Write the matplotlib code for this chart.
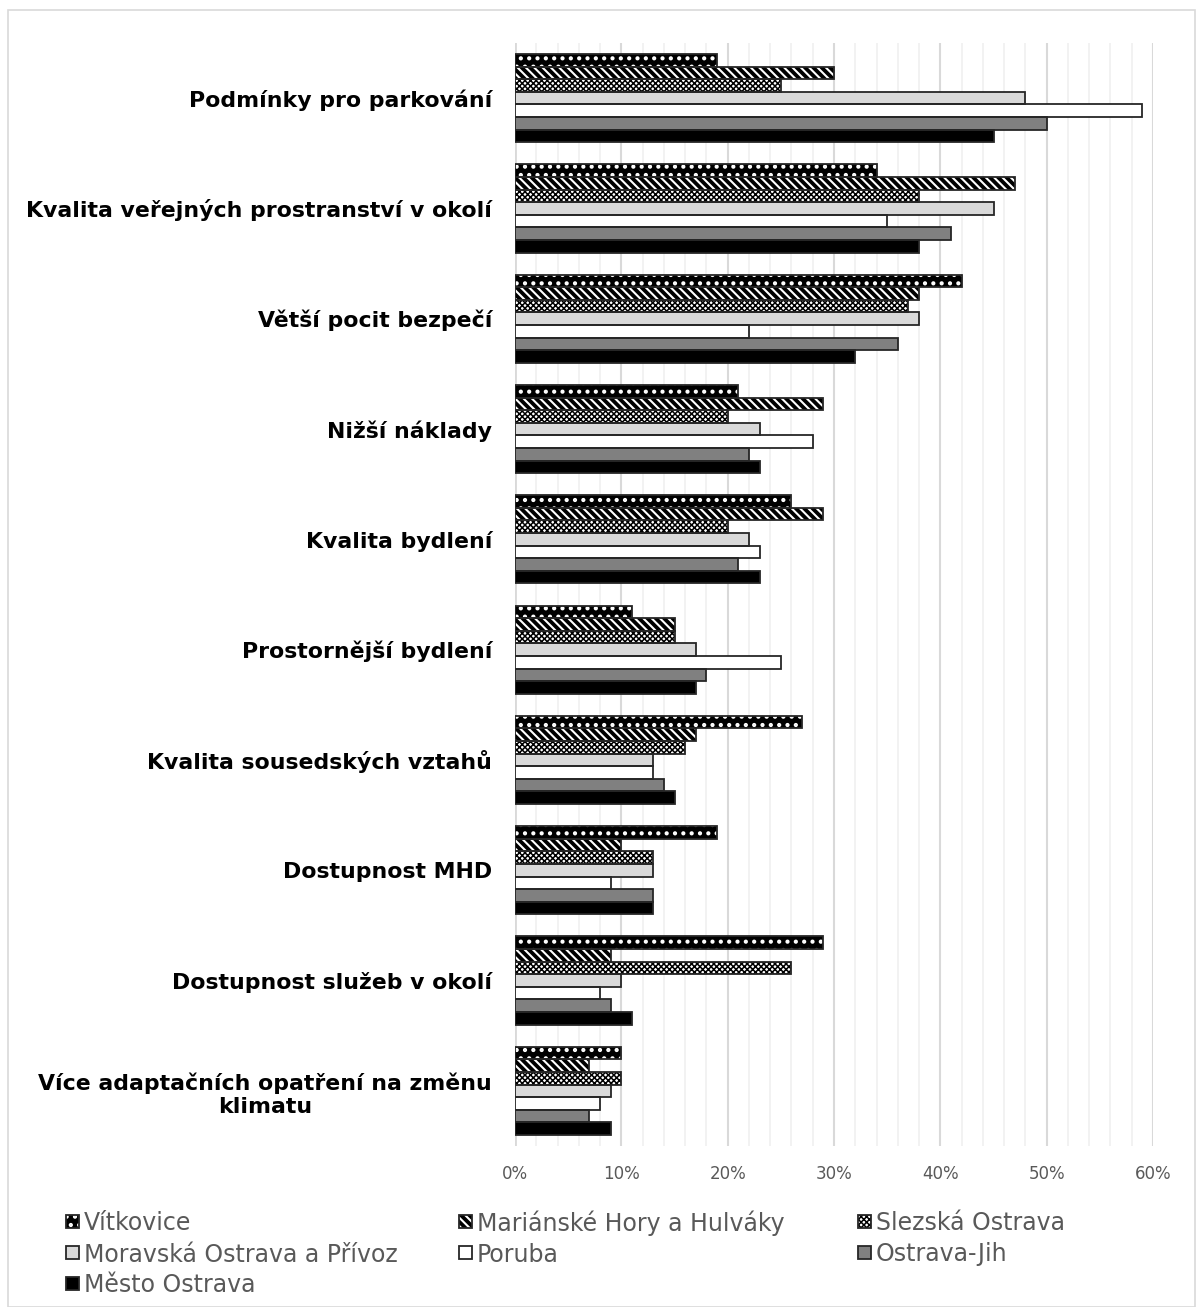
import matplotlib
matplotlib.use("Agg")
import matplotlib.pyplot as plt
from matplotlib.patches import Rectangle
from matplotlib.ticker import MultipleLocator, PercentFormatter
import numpy as np

categories = [
    "Podmínky pro parkování",
    "Kvalita veřejných prostranství v okolí",
    "Větší pocit bezpečí",
    "Nižší náklady",
    "Kvalita bydlení",
    "Prostornější bydlení",
    "Kvalita sousedských vztahů",
    "Dostupnost MHD",
    "Dostupnost služeb v okolí",
    "Více adaptačních opatření na změnu\nklimatu",
]

series_names = [
    "Vítkovice",
    "Mariánské Hory a Hulváky",
    "Slezská Ostrava",
    "Moravská Ostrava a Přívoz",
    "Poruba",
    "Ostrava-Jih",
    "Město Ostrava",
]

vitkovice = [19, 34, 42, 21, 26, 11, 27, 19, 29, 10]
marianske = [30, 47, 38, 29, 29, 15, 17, 10, 9, 7]
slezska = [25, 38, 37, 20, 20, 15, 16, 13, 26, 10]
moravska = [48, 45, 38, 23, 22, 17, 13, 13, 10, 9]
poruba = [59, 35, 22, 28, 23, 25, 13, 9, 8, 8]
jih = [50, 41, 36, 22, 21, 18, 14, 13, 9, 7]
mesto = [45, 38, 32, 23, 23, 17, 15, 13, 11, 9]

values = [vitkovice, marianske, slezska, moravska, poruba, jih, mesto]

# fill colour, hatch colour, hatch pattern, hatch line width
styles = [
    ("black", "white", "..", 1.8),
    ("black", "white", "\\\\\\\\", 1.5),
    ("white", "black", "xxxxxx", 1.1),
    ("#d9d9d9", "#1a1a1a", None, 1.0),
    ("white", "#1a1a1a", None, 1.0),
    ("#808080", "#1a1a1a", None, 1.0),
    ("black", "black", None, 1.0),
]
OUTLINE = "#262626"


def hatched(patch, hlw):
    # per-artist hatch width when the matplotlib version supports it
    if hasattr(patch, "set_hatch_linewidth"):
        patch.set_hatch_linewidth(hlw)


plt.rcParams["font.family"] = ["DejaVu Sans"]
plt.rcParams["hatch.linewidth"] = 1.0

W, H = 1203, 1307
fig = plt.figure(figsize=(W / 100, H / 100), dpi=100)
ax = fig.add_axes([515 / W, 1 - 1146 / H, (1153 - 515) / W, (1146 - 43) / H])

y = np.arange(len(categories))
bh = 0.8 / 7
for j, (vals, (fc, hc, hatch, hlw)) in enumerate(zip(values, styles)):
    pos = y + (j - 3) * bh
    bars = ax.barh(pos, vals, height=bh, facecolor=fc, edgecolor=hc,
                   hatch=hatch, linewidth=0, zorder=3)
    for b in bars:
        hatched(b, hlw)
    ax.barh(pos, vals, height=bh, facecolor="none", edgecolor=OUTLINE,
            linewidth=1.3, zorder=4)

ax.set_xlim(0, 60)
ax.set_ylim(9.5, -0.5)
ax.set_yticks(y)
ax.set_yticklabels(categories, fontsize=15.8, fontweight="bold",
                   multialignment="center")
ax.tick_params(axis="y", length=0, pad=16.5)
ax.xaxis.set_major_locator(MultipleLocator(10))
ax.xaxis.set_minor_locator(MultipleLocator(2))
ax.xaxis.set_major_formatter(PercentFormatter(decimals=0))
ax.tick_params(axis="x", which="both", length=0, pad=14, labelsize=12,
               labelcolor="#595959")
ax.grid(axis="x", which="major", color="#d9d9d9", linewidth=1.5, zorder=0)
ax.grid(axis="x", which="minor", color="#f0f0f0", linewidth=1.2, zorder=0)
ax.set_axisbelow(True)
for s in ax.spines.values():
    s.set_visible(False)
ax.axvline(0, color="#d9d9d9", linewidth=2, zorder=1)

# legend, three columns filled row by row
col_x = [66, 459, 858]
row_y = [1221, 1252, 1283]
sq = 13
for i, (name, (fc, hc, hatch, hlw)) in enumerate(zip(series_names, styles)):
    x0 = col_x[i % 3]
    yc = row_y[i // 3]
    fill = Rectangle((x0 / W, 1 - (yc + sq / 2) / H), sq / W, sq / H,
                     transform=fig.transFigure, facecolor=fc, edgecolor=hc,
                     hatch=hatch, linewidth=0)
    hatched(fill, hlw)
    edge = Rectangle((x0 / W, 1 - (yc + sq / 2) / H), sq / W, sq / H,
                     transform=fig.transFigure, facecolor="none",
                     edgecolor=OUTLINE, linewidth=1.3)
    fig.patches.extend([fill, edge])
    fig.text((x0 + sq + 5) / W, 1 - yc / H, name, fontsize=17,
             color="#595959", ha="left", va="center_baseline")

fig.patches.append(Rectangle((8 / W, 0), 1 - 16 / W, 1 - 10 / H,
                             transform=fig.transFigure, fill=False,
                             edgecolor="#d9d9d9", linewidth=1.2))

fig.savefig("out.png", dpi=100)
